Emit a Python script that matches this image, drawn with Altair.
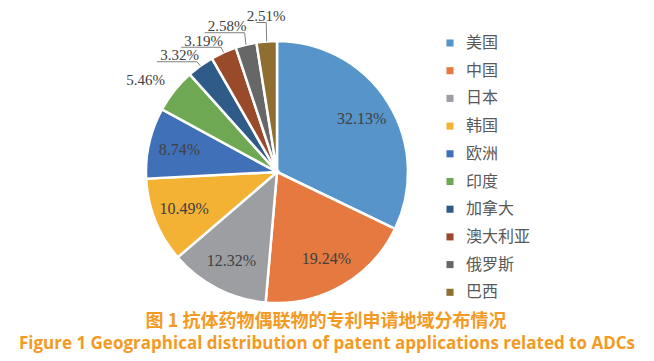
import math
import altair as alt
import pandas as pd

countries = ["美国", "中国", "日本", "韩国", "欧洲", "印度", "加拿大", "澳大利亚", "俄罗斯", "巴西"]
shares = [32.13, 19.24, 12.32, 10.49, 8.74, 5.46, 3.32, 3.19, 2.58, 2.51]
colors = ["#5694C9", "#E5793F", "#9D9EA2", "#F4B234", "#4070B8",
          "#6EA853", "#2F5B88", "#994A2B", "#676767", "#8E6E31"]
caption_cn = "图 1  抗体药物偶联物的专利申请地域分布情况"
caption_en = "Figure 1  Geographical distribution of patent applications related to ADCs"

W, H = 638, 350
CX, CY, R = 269, 164, 131
INSIDE_MIN = 6.0
OUT_FS = 15

labels = [f"{v:.2f}%" for v in shares]
total = sum(shares)

base_df = pd.DataFrame({
    "country": countries,
    "share": shares,
    "idx": list(range(len(shares))),
    "inner": [l if v > INSIDE_MIN else "" for l, v in zip(labels, shares)],
})

# outside labels + leader lines, computed from slice mid-angles
cum = 0.0
mids = []
for v in shares:
    mids.append(2 * math.pi * (cum + v / 2) / total)
    cum += v

out_rows, line_rows = [], []
level = None
for i, v in enumerate(shares):
    if v > INSIDE_MIN:
        continue
    a = mids[i]
    sx, sy = math.sin(a), -math.cos(a)
    ex, ey = CX + R * sx, CY + R * sy
    if shares[i - 1] > INSIDE_MIN:
        # first outside label: placed radially, no leader
        out_rows.append({"x": CX + (R + 12) * sx, "y": CY + (R + 12) * sy - 3,
                         "t": labels[i], "al": "right"})
        continue
    natural = ey - 4
    level = natural if level is None else min(natural, level - 14.5)
    level = max(level, 14.5)
    elx = ex + 6 * sx
    vertical = abs(sx) < 0.15
    seg = 10 if vertical else 40
    line_rows += [
        {"g": labels[i], "k": 0, "x": ex, "y": ey},
        {"g": labels[i], "k": 1, "x": elx, "y": level},
        {"g": labels[i], "k": 2, "x": elx - seg, "y": level},
    ]
    if vertical:
        out_rows.append({"x": elx, "y": level - 6.5, "t": labels[i], "al": "center"})
    else:
        out_rows.append({"x": elx + 2, "y": level - 6.5, "t": labels[i], "al": "right"})

out_df = pd.DataFrame(out_rows)
line_df = pd.DataFrame(line_rows)

xs = alt.Scale(domain=[0, W], nice=False, zero=False)
ys = alt.Scale(domain=[0, H], nice=False, zero=False, reverse=True)

base = alt.Chart(base_df)

arcs = base.mark_arc(outerRadius=R, stroke="white", strokeWidth=2.5).encode(
    theta=alt.Theta("share:Q", stack=True),
    order=alt.Order("idx:Q"),
    color=alt.Color(
        "country:N",
        sort=countries,
        scale=alt.Scale(domain=countries, range=colors),
        legend=alt.Legend(
            title=None, orient="none", legendX=434, legendY=27,
            symbolType="square", symbolSize=50, symbolStrokeWidth=0,
            labelFont="Noto Sans CJK SC", labelFontSize=16, labelColor="#595959",
            rowPadding=11.7, labelOffset=8, padding=0,
        ),
    ),
    x=alt.value(CX),
    y=alt.value(CY),
)

inner_text = base.mark_text(
    radius=100, font="Liberation Serif", fontSize=16, color="#404040"
).encode(
    theta=alt.Theta("share:Q", stack=True),
    order=alt.Order("idx:Q"),
    text="inner:N",
    x=alt.value(CX),
    y=alt.value(CY),
)

leaders = alt.Chart(line_df).mark_line(color="#7F7F7F", strokeWidth=1).encode(
    x=alt.X("x:Q", scale=xs, axis=None),
    y=alt.Y("y:Q", scale=ys, axis=None),
    detail="g:N",
    order="k:Q",
)

outer_right = alt.Chart(out_df).transform_filter("datum.al == 'right'").mark_text(
    align="right", baseline="middle", font="Liberation Serif", fontSize=OUT_FS, color="#404040"
).encode(
    x=alt.X("x:Q", scale=xs, axis=None),
    y=alt.Y("y:Q", scale=ys, axis=None),
    text="t:N",
)

outer_center = alt.Chart(out_df).transform_filter("datum.al == 'center'").mark_text(
    align="center", baseline="middle", font="Liberation Serif", fontSize=OUT_FS, color="#404040"
).encode(
    x=alt.X("x:Q", scale=xs, axis=None),
    y=alt.Y("y:Q", scale=ys, axis=None),
    text="t:N",
)

cap1 = alt.Chart(pd.DataFrame({"t": [caption_cn]})).mark_text(
    font="Noto Sans CJK SC", fontWeight="bold", fontSize=18, color="#F39A25"
).encode(text="t:N", x=alt.value(318), y=alt.value(314))

cap2 = alt.Chart(pd.DataFrame({"t": [caption_en]})).mark_text(
    font="Open Sans", fontWeight="bold", fontSize=17, color="#F39A25"
).encode(text="t:N", x=alt.value(319), y=alt.value(336))

chart = alt.layer(arcs, inner_text, leaders, outer_right, outer_center, cap1, cap2).properties(
    width=W, height=H, padding=0, autosize=alt.AutoSizeParams(type="none")
).configure_view(stroke=None)

chart.save("out.html", embed_options={"renderer": "svg", "actions": False})
